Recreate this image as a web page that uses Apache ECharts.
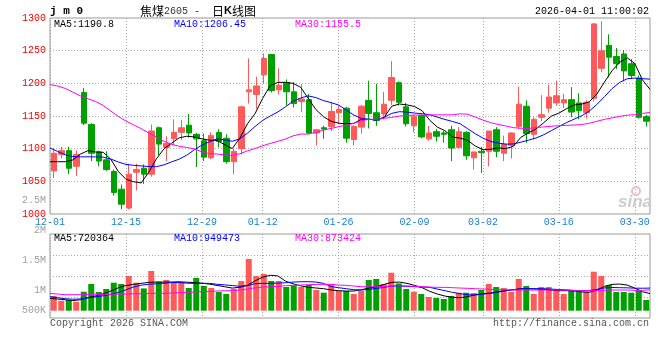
<!DOCTYPE html>
<html><head><meta charset="utf-8">
<script src="https://cdn.jsdelivr.net/npm/echarts@6/dist/echarts.min.js"></script>
<style>html,body{margin:0;padding:0;background:#fff}#c{width:660px;height:360px}</style>
</head><body><div id="c"></div>
<script>
const dates = ['12-01','12-02','12-03','12-04','12-05','12-08','12-09','12-10','12-11','12-12',
 '12-15','12-16','12-17','12-18','12-19','12-22','12-23','12-24','12-25','12-26',
 '12-29','12-30','12-31','01-05','01-06','01-07','01-08','01-09','01-12','01-13',
 '01-14','01-15','01-16','01-19','01-20','01-21','01-22','01-23','01-26','01-27',
 '01-28','01-29','01-30','02-02','02-03','02-04','02-05','02-06','02-09','02-10',
 '02-11','02-12','02-13','02-24','02-25','02-26','02-27','03-02','03-03','03-04',
 '03-05','03-06','03-09','03-10','03-11','03-12','03-13','03-16','03-17','03-18',
 '03-19','03-20','03-23','03-24','03-25','03-26','03-27','03-30','03-31','04-01'];
const labelDates = ['12-01','12-15','12-29','01-12','01-26','02-09','03-02','03-16','03-30'];
const opens = [1066,1091,1097,1073,1186,1137,1095,1083,1065,1038,
 1009,1064,1070,1061,1132,1102,1115,1125,1136,1122,
 1112,1086,1125,1116,1080,1100,1187,1183,1213,1244,
 1190,1201,1187,1172,1175,1124,1132,1134,1155,1162,
 1114,1133,1174,1155,1153,1174,1201,1164,1135,1151,
 1115,1126,1124,1129,1102,1125,1086,1096,1096,1129,
 1093,1105,1134,1165,1122,1148,1162,1170,1170,1175,
 1170,1155,1177,1223,1258,1241,1245,1230,1208,1149];
const closes = [1093,1097,1070,1091,1139,1093,1081,1068,1033,1015,
 1061,1068,1061,1127,1107,1108,1125,1132,1124,1115,
 1087,1120,1111,1080,1096,1164,1190,1196,1238,1189,
 1197,1187,1169,1176,1124,1129,1130,1157,1160,1116,
 1134,1165,1154,1143,1168,1209,1171,1138,1149,1118,
 1124,1119,1122,1101,1126,1089,1095,1094,1127,1096,
 1107,1124,1168,1123,1145,1152,1179,1181,1175,1156,
 1158,1171,1291,1250,1240,1230,1219,1212,1148,1142];
const lows = [1055,1085,1061,1058,1136,1081,1073,1066,1028,1007,
 1007,1036,1046,1057,1090,1081,1105,1113,1117,1072,
 1081,1084,1102,1077,1061,1091,1169,1161,1200,1186,
 1183,1166,1163,1156,1122,1105,1115,1127,1137,1109,
 1105,1123,1131,1135,1145,1167,1166,1134,1125,1116,
 1112,1111,1109,1081,1100,1083,1068,1063,1073,1087,
 1081,1085,1130,1109,1114,1142,1155,1166,1162,1148,
 1145,1146,1172,1217,1209,1222,1203,1207,1146,1134];
const highs = [1101,1103,1103,1097,1193,1139,1097,1096,1068,1045,
 1077,1077,1076,1137,1134,1119,1145,1144,1153,1124,
 1123,1125,1130,1122,1100,1166,1238,1210,1246,1245,
 1223,1206,1202,1199,1184,1130,1135,1170,1166,1164,
 1136,1167,1204,1199,1187,1234,1203,1170,1152,1152,
 1135,1130,1127,1135,1133,1127,1095,1103,1127,1133,
 1120,1125,1195,1174,1148,1182,1198,1204,1184,1194,
 1185,1174,1292,1295,1275,1254,1251,1237,1212,1152];
const ma5 = [1080,1080,1080,1082.7,1091.6,1097,1095,1094.4,1084,1065,
 1053.2,1049.4,1047.5,1063.8,1084.4,1099.7,1108.2,1116.5,1119,1118,
 1115,1113,1112.6,1106,1100.2,1116.2,1138,1153.7,1177,1196.7,
 1201.4,1201.6,1200,1194,1177,1160,1149,1142,1139,1138,
 1138.8,1145,1145,1144,1148,1165,1168.4,1167,1164.5,1158,
 1143.5,1133,1127.4,1117.7,1116.2,1112.6,1104,1098.4,1099,1101.4,
 1100,1103.5,1117.4,1124.3,1130.3,1139.6,1149.7,1154.4,1161.1,1166.7,
 1168.2,1171.6,1183.5,1202,1219.2,1232.2,1239,1230.4,1205.4,1190.8];
const ma10 = [1101,1095.8,1090.6,1087.9,1087.5,1087.5,1087.5,1087,1084.2,1079.5,
 1076,1074.5,1073.6,1072.6,1072.4,1075.2,1079.7,1083.9,1090,1098.2,
 1105.4,1110.6,1114.9,1113.5,1111.3,1115.1,1123.8,1133.9,1143.3,1150,
 1156.2,1164.1,1172.6,1177.6,1180.8,1178.2,1173.6,1170.5,1166.8,1159.1,
 1151.5,1146.4,1144.9,1143.8,1147.9,1154,1156.6,1156,1154.5,1153.5,
 1152,1148.3,1144.7,1141.6,1138.1,1130.4,1122.8,1116.2,1111.1,1108.6,
 1106.9,1107.2,1109.9,1113,1116.4,1121.2,1127.5,1133.8,1139.9,1145.1,
 1150.3,1157.4,1167.7,1179.5,1191.9,1201.3,1207,1208.1,1207.1,1206.45];
const ma30 = [1198,1195.9,1192.2,1186.5,1180.8,1176.3,1172.2,1166.2,1157.7,1149.4,
 1142.2,1136.5,1130.7,1124.1,1117.8,1111.2,1106.7,1103.7,1101.9,1099.7,
 1095.2,1092.3,1091.8,1090.5,1089.8,1092.2,1096.6,1100.3,1104.4,1108,
 1111.2,1114.8,1119.6,1122.3,1122.4,1124.8,1128.4,1131,1133.6,1136.2,
 1138.7,1142.8,1144.9,1144.9,1146.4,1147.9,1150,1151,1151.3,1151.4,
 1151.5,1151.8,1151.8,1151.8,1153.3,1152.8,1148.3,1143.8,1139.9,1137.1,
 1134.7,1132.2,1131.2,1130.9,1132.3,1133.3,1134.3,1135.2,1135.7,1136.2,
 1136.9,1138.8,1141.9,1144.8,1147.1,1149.4,1151.3,1152,1153.9,1155.5];
const volumes = [617000,420000,449000,378000,798000,1121000,785000,911000,1176000,1121000,
 1457000,1176000,937000,1667000,1218000,1289000,1189000,1205000,953000,1373000,
 1037000,953000,785000,701000,911000,1247000,2171000,1457000,1541000,1247000,
 1247000,995000,1050000,995000,1079000,869000,756000,1105000,827000,827000,
 701000,827000,1289000,1331000,1121000,1596000,1147000,911000,798000,701000,
 575000,533000,491000,617000,756000,756000,743000,869000,1121000,995000,
 953000,785000,1331000,1037000,701000,995000,995000,895000,701000,827000,
 827000,785000,1638000,1457000,1079000,785000,785000,756000,869000,449000];
const volMa5 = [518000,490000,461000,425000,460000,551000,620000,710000,823000,962000,
 1057000,1105000,1147000,1190000,1204000,1204000,1204000,1214000,1198000,1180000,
 1155000,1116000,1062000,1006000,949000,984000,1064000,1254000,1407000,1489000,
 1461000,1244000,1130000,1043000,984000,954000,925000,870000,840000,826000,
 826000,882000,952000,1008000,1106000,1190000,1204000,1148000,1064000,966000,
 812000,700000,616000,560000,546000,588000,672000,714000,742000,798000,
 847000,883000,924000,920000,910000,901000,868000,840000,840000,830000,
 790000,773000,867000,1019000,1104000,1120000,1075000,950000,795000,720364];
const volMa10 = [588000,545000,503000,482000,491000,535000,584000,627000,686000,765000,
 877000,996000,1072000,1110000,1130000,1153000,1182000,1180000,1156000,1148000,
 1148000,1148000,1109000,1084000,1056000,1027000,1057000,1135000,1148000,1148000,
 1160000,1174000,1201000,1217000,1218000,1205000,1150000,1012000,967000,924000,
 882000,868000,896000,938000,980000,1036000,1036000,1022000,1008000,994000,
 980000,910000,840000,770000,714000,672000,658000,700000,728000,784000,
 837000,879000,914000,924000,924000,920000,905000,891000,872000,849000,
 835000,843000,897000,956000,974000,966000,960000,945000,943000,949473];
const volMa30 = [728000,699000,672000,672000,672000,686000,686000,686000,686000,700000,
 700000,714000,714000,728000,728000,728000,742000,756000,770000,784000,
 798000,812000,826000,840000,840000,868000,914000,959000,990000,1008000,
 1022000,1050000,1064000,1078000,1092000,1106000,1106000,1106000,1078000,1064000,
 1036000,1008000,1008000,1008000,1022000,1036000,1050000,1036000,1022000,1008000,
 994000,980000,980000,966000,952000,938000,924000,910000,896000,882000,
 882000,868000,868000,868000,868000,868000,868000,868000,868000,854000,
 840000,840000,840000,854000,868000,868000,868000,854000,854000,873424];
const volTickLabels = ['2.5M','2M','1.5M','1M','500K'];
const maTexts = ['MA5:1190.8','MA10:1206.45','MA30:1155.5'];
const volMaTexts = ['MA5:720364','MA10:949473','MA30:873424'];

const UP = '#ff5a5a', DOWN = '#00a000';
const MONO = '"Liberation Mono","DejaVu Sans Mono",monospace';
const chart = echarts.init(document.getElementById('c'), null, {renderer:'canvas'});
const isLabel = (i, v) => labelDates.indexOf(v) >= 0;
const dotted = {type:[1,2], color:'#a8a8a8', width:1};
const maColors = ['#000000','#0000ff','#ff00ff'];

function txt(x, y, text, fill, opt) {
  return Object.assign({type:'text', x:x, y:y, silent:true, z:100,
    style:Object.assign({text:text, fill:fill, fontSize:10, fontFamily:MONO, align:'left', verticalAlign:'middle'}, opt||{})});
}
const volLabelY = [200.5, 230.5, 260.7, 290.7, 310.7];
const graphics = [
  txt(50, 11, 'j m 0', '#000', {fontWeight:'bold', fontSize:11}),
  {type:'text', x:140, y:11, silent:true, style:{text:'{c|焦煤}{a|2605 -  }{c|日}{b|K}{c|线图}', verticalAlign:'middle',
    rich:{c:{fontSize:12, fontFamily:'"Noto Sans CJK SC"', fill:'#000'},
          a:{fontSize:10, fontFamily:MONO, fill:'#333'},
          b:{fontSize:11, fontFamily:'"Liberation Sans"', fontWeight:'bold', fill:'#000'}}}},
  txt(649, 11.5, '2026-04-01 11:00:02', '#000', {align:'right'}),
  txt(54, 24, maTexts[0], maColors[0]),
  txt(174, 24, maTexts[1], maColors[1]),
  txt(295, 24, maTexts[2], maColors[2]),
  txt(54, 238.5, volMaTexts[0], maColors[0]),
  txt(174, 238.5, volMaTexts[1], maColors[1]),
  txt(295, 238.5, volMaTexts[2], maColors[2]),
  txt(50, 323, 'Copyright 2026 SINA.COM', '#555'),
  txt(649, 323, 'http://finance.sina.com.cn', '#555', {align:'right'}),
  {type:'circle', shape:{cx:636, cy:191, r:4}, silent:true, z:1, style:{fill:'none', stroke:'#f3bcbc', lineWidth:2}},
  txt(635, 202, 'sina', '#cccccc', {align:'center', fontSize:17, fontWeight:'bold', fontStyle:'italic', fontFamily:'"Liberation Sans"'})
];
volTickLabels.forEach((t, k) => graphics.push(txt(46, volLabelY[k], t, '#a0a0a0', {align:'right'})));

const candleData = opens.map((o, i) => [o, closes[i], lows[i], highs[i]]);
const volData = volumes.map((v, i) => ({value:v, itemStyle:{color: closes[i] >= opens[i] ? UP : DOWN}}));

function maSeries(data, color, xi, yi) {
  return {type:'line', xAxisIndex:xi, yAxisIndex:yi, data:data, symbol:'none', silent:true,
    lineStyle:{color:color, width:1}, z:5, animation:false};
}

chart.setOption({
  animation:false,
  backgroundColor:'#fff',
  grid:[
    {left:50, top:18, width:600, height:196, show:true, borderColor:'#999', borderWidth:1},
    {left:50, top:234, width:600, height:84, show:true, borderColor:'#999', borderWidth:1}
  ],
  xAxis:[
    {type:'category', gridIndex:0, data:dates, boundaryGap:true, show:false},
    {type:'category', gridIndex:0, data:dates, boundaryGap:false, position:'bottom',
     axisLine:{show:false}, axisTick:{show:false},
     axisLabel:{interval:isLabel, color:'#1a7fd4', fontSize:10, fontFamily:MONO, margin:3},
     splitLine:{show:true, interval:isLabel, lineStyle:dotted}},
    {type:'category', gridIndex:1, data:dates, boundaryGap:true, show:false},
    {type:'category', gridIndex:1, data:dates, boundaryGap:false,
     axisLine:{show:false}, axisTick:{show:false}, axisLabel:{show:false},
     splitLine:{show:true, interval:isLabel, lineStyle:dotted}}
  ],
  yAxis:[
    {type:'value', gridIndex:0, min:1000, max:1300, interval:50,
     axisLine:{show:false}, axisTick:{show:false},
     axisLabel:{color:'#ee0000', fontSize:10, fontFamily:MONO, margin:4, padding:[0,0,4,0],
       formatter:(v) => String(v)},
     splitLine:{show:true, showMinLine:false, showMaxLine:false, lineStyle:dotted}},
    {type:'value', gridIndex:1, min:-306600, max:3221400, show:false},
    {type:'value', gridIndex:1, min:0, max:4, interval:1,
     axisLine:{show:false}, axisTick:{show:false}, axisLabel:{show:false},
     splitLine:{show:true, showMinLine:false, showMaxLine:false, lineStyle:dotted}}
  ],
  series:[
    {type:'candlestick', xAxisIndex:0, yAxisIndex:0, data:candleData, barWidth:6, silent:true,
     itemStyle:{color:UP, color0:DOWN, borderColor:UP, borderColor0:DOWN, borderWidth:1}},
    maSeries(ma5, maColors[0], 1, 0),
    maSeries(ma10, maColors[1], 1, 0),
    maSeries(ma30, maColors[2], 1, 0),
    {type:'bar', xAxisIndex:2, yAxisIndex:1, data:volData, barWidth:6, silent:true},
    maSeries(volMa5, maColors[0], 3, 1),
    maSeries(volMa10, maColors[1], 3, 1),
    maSeries(volMa30, maColors[2], 3, 1)
  ],
  graphic:graphics
});
</script></body></html>
